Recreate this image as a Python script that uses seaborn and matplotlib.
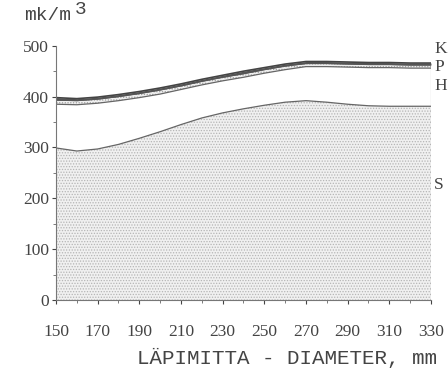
import numpy as np
import pandas as pd
import matplotlib
matplotlib.use("Agg")
import matplotlib.pyplot as plt
import seaborn as sns

# Diameter classes, mm
diameter = [150, 160, 170, 180, 190, 200, 210, 220, 230, 240,
            250, 260, 270, 280, 290, 300, 310, 320, 330]
# Layer thicknesses, mk/m3 (stacked from bottom: S, H, P, K)
S = [299, 293, 297, 306, 318, 331, 345, 358, 368, 376,
     383, 389, 392, 389, 385, 382, 381, 381, 381]
H = [86, 91, 90, 86, 80, 74, 69, 65, 63, 62,
     63, 64, 67, 70, 73, 75, 76, 75, 75]
P = [8, 8, 8, 8, 8, 8, 7, 7, 7, 7,
     7, 7, 6, 6, 6, 6, 6, 6, 6]
K = [5, 4, 4, 4, 4, 4, 4, 4, 4, 5,
     4, 4, 4, 4, 4, 4, 4, 4, 4]
layer_labels = ["K", "P", "H", "S"]
xticks = [150, 170, 190, 210, 230, 250, 270, 290, 310, 330]
yticks = [0, 100, 200, 300, 400, 500]

sns.set_theme(style="ticks")
plt.rcParams["font.family"] = ["Liberation Serif", "DejaVu Serif"]
plt.rcParams["hatch.linewidth"] = 0.6

df = pd.DataFrame({"d": diameter, "S": S, "H": H, "P": P, "K": K})
df["s_top"] = df["S"]
df["h_top"] = df["s_top"] + df["H"]
df["p_top"] = df["h_top"] + df["P"]
df["k_top"] = df["p_top"] + df["K"]

fig = plt.figure(figsize=(4.48, 3.69), dpi=100)
ax = fig.add_axes([0.125, 0.187, 0.837, 0.689])

ax.fill_between(df["d"], 0, df["s_top"], facecolor="#f0f0f0",
                edgecolor="#b5b5b5", hatch="......", linewidth=0)
ax.fill_between(df["d"], df["h_top"], df["p_top"], facecolor="#f0f0f0",
                edgecolor="#a0a0a0", hatch="......", linewidth=0)
ax.fill_between(df["d"], df["p_top"], df["k_top"], facecolor="#555555",
                linewidth=0)

sns.lineplot(data=df, x="d", y="s_top", ax=ax, color="#666666", lw=0.9)
sns.lineplot(data=df, x="d", y="h_top", ax=ax, color="#666666", lw=0.9)
sns.lineplot(data=df, x="d", y="p_top", ax=ax, color="#555555", lw=0.8)
sns.lineplot(data=df, x="d", y="k_top", ax=ax, color="#444444", lw=1.2)
ax.plot([330, 330], [0, df["k_top"].iloc[-1]], color="#888888", lw=0.8)

ax.set_xlim(150, 330)
ax.set_ylim(0, 500)
ax.set_xticks(xticks)
ax.set_yticks(yticks)
ax.set_xticks(np.arange(160, 330, 20), minor=True)
ax.set_yticks(np.arange(50, 500, 100), minor=True)
ax.tick_params(axis="both", which="major", length=3, width=0.8,
               labelsize=12.5, colors="#444444", pad=2)
ax.tick_params(axis="x", which="major", pad=14)
ax.tick_params(axis="both", which="minor", length=2, width=0.6, colors="#666666")
for lab in ax.get_xticklabels() + ax.get_yticklabels():
    lab.set_color("#444444")
ax.spines["top"].set_visible(False)
ax.spines["right"].set_visible(False)
ax.spines["left"].set_color("#777777")
ax.spines["bottom"].set_color("#777777")
ax.spines["left"].set_linewidth(0.8)
ax.spines["bottom"].set_linewidth(0.8)
ax.set_xlabel("")
ax.set_ylabel("")

mono = ["Liberation Mono", "DejaVu Sans Mono"]
fig.text(24 / 448, 1 - 15 / 369, "mk/m", family=mono, fontsize=14,
         color="#444444", va="center", ha="left")
fig.text(75 / 448, 1 - 9 / 369, "3", family=mono, fontsize=14,
         color="#444444", va="center", ha="left")
fig.text(137 / 448, 1 - 358 / 369, "LÄPIMITTA - DIAMETER, mm", family=mono,
         fontsize=15, color="#444444", va="center", ha="left")

label_y = [49, 67, 86, 185]
for lab, py in zip(layer_labels, label_y):
    fig.text(434 / 448, 1 - py / 369, lab, fontsize=12.5, color="#444444",
             va="center", ha="left")

fig.savefig("out.png", dpi=100)
